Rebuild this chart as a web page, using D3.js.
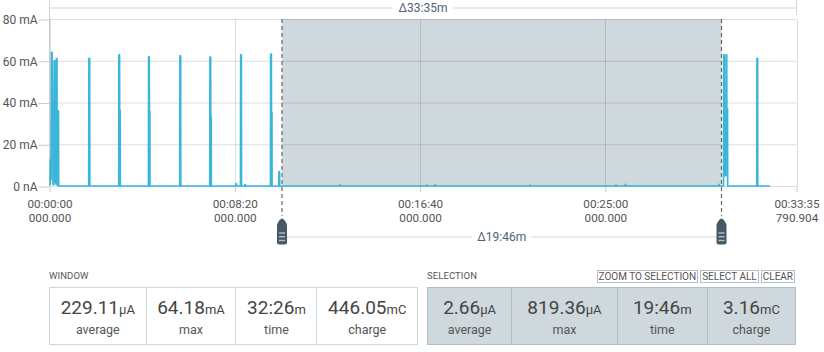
<!DOCTYPE html>
<html><head><meta charset="utf-8">
<script src="https://cdn.jsdelivr.net/npm/d3@7"></script>
<style>
body{margin:0;background:#fff;font-family:Roboto,sans-serif;}
#wrap{position:relative;width:824px;height:352px;overflow:hidden;}
svg{position:absolute;left:0;top:0;}
.title{position:absolute;top:270px;font-size:9.5px;color:#555;letter-spacing:0.1px;line-height:12px;}
.panel{position:absolute;top:287px;width:369px;height:58px;display:flex;box-sizing:border-box;border:1px solid #cfd8dc;}
.panel.sel{background:#cfd8dc;border-color:#b0bec5;}
.cell{flex:1 1 auto;text-align:center;box-sizing:border-box;border-left:1px solid #cfd8dc;padding:0 6px;}
.panel.sel .cell{border-left-color:#b0bec5;}
.cell:first-child{border-left:none;}
.val{margin-top:9px;font-size:19px;line-height:22px;color:#454545;white-space:nowrap;}
.unit{font-size:13px;}
.lab{margin-top:1px;font-size:12.5px;line-height:15px;color:#555;}
.btns{position:absolute;top:270px;right:29px;display:flex;gap:2px;}
.btn{font-size:10px;line-height:11px;color:#555;border:1px solid #b0bec5;padding:0 1px;background:#fff;white-space:nowrap;}
</style></head><body><div id="wrap"></div><script>
// ---- data ----
const timeSec = [0,2.0,2.3,4.0,4.3,5.5,7.0,7.4,9.0,9.4,10.6,11.2,12.6,13.8,14.2,15.0,16.4,16.8,18.6,20.2,20.6,21.6,24.2,24.8,
 105.8,106.4,108.2,108.8,
 186.8,187.3,189.0,189.3,190.6,191.0,
 267.0,267.5,269.2,269.5,270.8,271.2,
 351.5,352.0,353.8,354.3,
 432.5,433.0,434.8,435.1,436.4,436.8,
 502.8,503.3,504.5,505.0,
 515.4,515.9,517.7,518.2,
 527.2,527.6,528.8,529.2,
 596.3,596.8,598.6,598.9,600.2,600.6,
 618.7,619.2,620.8,621.2,
 783.5,784.0,784.8,
 1018.4,1018.8,1019.6,
 1040.0,1040.4,1041.2,
 1296.2,1296.6,1297.4,
 1528.4,1528.8,1529.6,
 1553.9,1554.3,1555.1,
 1806.2,1806.6,1807.4,
 1818.9,1819.3,1820.9,1821.3,1825.6,1826.0,1827.4,1827.8,1829.6,1830.0,
 1908.7,1909.2,1910.8,1911.2,
 1944.3];
const currentMA = [0.8,0.8,12.5,12.5,3,64,64,40,40,1,38,0.5,60,60,2,45,45,1,61,61,0.5,36,36,0.003,
 0.003,61.2,61.2,0.003,
 0.003,62.8,62.8,36.4,36.4,0.003,
 0.003,61.9,61.9,35.9,35.9,0.003,
 0.003,62.3,62.3,0.003,
 0.003,61.8,61.8,33,33,0.003,
 0.003,1.0,1.0,0.003,
 0.003,62.8,62.8,0.003,
 0.003,0.7,0.7,0.003,
 0.003,63.2,63.2,35.4,35.4,0.003,
 0.003,6.9,6.9,0.003,
 0.003,0.5,0.003,
 0.003,0.4,0.003,
 0.003,0.5,0.003,
 0.003,0.4,0.003,
 0.003,0.4,0.003,
 0.003,0.82,0.003,
 0.003,0.8,0.003,
 0.003,62.8,62.8,5,5,62.8,62.8,37.2,37.2,0.003,
 0.003,61.2,61.2,0.003,
 0.003];
const yTicks = [0,20,40,60,80];
const yTickLabels = ["0 nA","20 mA","40 mA","60 mA","80 mA"];
const xTicks = [0,500,1000,1500,2015.790904];
const xTickTime = ["00:00:00","00:08:20","00:16:40","00:25:00","00:33:35"];
const xTickFrac = ["000.000","000.000","000.000","000.000","790.904"];
const domainEnd = 2015.790904;
const selStart = 627.4, selEnd = 1813.4;
const windowDelta = "Δ33:35m", selectionDelta = "Δ19:46m";
const statLabels = ["average","max","time","charge"];
const windowValues = ["229.11","64.18","32:26","446.05"];
const windowUnits = ["µA","mA","m","mC"];
const selectionValues = ["2.66","819.36","19:46","3.16"];
const selectionUnits = ["µA","µA","m","mC"];
const buttons = ["ZOOM TO SELECTION","SELECT ALL","CLEAR"];

// ---- chart ----
const W=824,H=352, L=49.5, R=796.5, T=19, B=186;
const wrap=d3.select("#wrap");
const svg=wrap.append("svg").attr("width",W).attr("height",H)
  .style("font-family","Roboto, sans-serif");
const x=d3.scaleLinear().domain([0,domainEnd]).range([L,R]);
const y=d3.scaleLinear().domain([0,80]).range([B,T]);

// top delta bar
const topG=svg.append("g");
topG.append("line").attr("x1",L).attr("x2",R).attr("y1",8).attr("y2",8).attr("stroke","#cfd8dc");
topG.selectAll("line.end").data([L,R]).join("line").attr("class","end")
  .attr("x1",d=>d).attr("x2",d=>d).attr("y1",0).attr("y2",15).attr("stroke","#cfd8dc");
const topMid=(L+R)/2;
topG.append("rect").attr("x",topMid-30).attr("y",1).attr("width",60).attr("height",14).attr("fill","#fff");
topG.append("text").attr("x",topMid).attr("y",8).attr("dy","0.35em").attr("text-anchor","middle")
  .attr("font-size",12).attr("fill","#54626f").text(windowDelta);

// selection rect
svg.append("rect").attr("x",x(selStart)).attr("y",T).attr("width",x(selEnd)-x(selStart)).attr("height",B-T)
  .attr("fill","#cfd8dc");

// grid
svg.append("g").selectAll("line").data(yTicks).join("line")
  .attr("x1",L).attr("x2",R).attr("y1",d=>y(d)+0.5).attr("y2",d=>y(d)+0.5)
  .attr("stroke","#000").attr("stroke-opacity",0.13);
svg.append("g").selectAll("line").data(xTicks).join("line")
  .attr("x1",d=>Math.round(x(d))+0.5).attr("x2",d=>Math.round(x(d))+0.5).attr("y1",T).attr("y2",B)
  .attr("stroke","#000").attr("stroke-opacity",0.13);
// left axis line
svg.append("line").attr("x1",L).attr("x2",L).attr("y1",15).attr("y2",B).attr("stroke","#ccc");

// y axis
const yAxis=svg.append("g").attr("transform",`translate(${L},0.5)`)
  .call(d3.axisLeft(y).tickValues(yTicks).tickFormat((d,i)=>yTickLabels[i]).tickSize(11).tickPadding(1));
yAxis.select(".domain").remove();
yAxis.selectAll("line").attr("stroke","#ccc");
yAxis.selectAll("text").attr("font-size",12).attr("fill","#555").attr("font-family","Roboto, sans-serif");

// x axis
const xAxis=svg.append("g").attr("transform",`translate(0,${B})`)
  .call(d3.axisBottom(x).tickValues(xTicks).tickSize(6).tickFormat(""));
xAxis.select(".domain").remove();
xAxis.selectAll("line").attr("stroke","#ccc");
xAxis.selectAll(".tick").each(function(d,i){
  const t=d3.select(this).select("text").attr("font-size",11.7).attr("fill","#555")
    .attr("font-family","Roboto, sans-serif").attr("y",0).attr("dy",null);
  t.append("tspan").attr("x",0).attr("y",22.3).text(xTickTime[i]);
  t.append("tspan").attr("x",0).attr("y",35.7).text(xTickFrac[i]);
});

// data line
const pts=timeSec.map((t,i)=>[t,currentMA[i]]);
svg.append("path").datum(pts)
  .attr("d",d3.line().x(d=>x(d[0])).y(d=>y(d[1])))
  .attr("fill","none").attr("stroke","#1eacd5").attr("stroke-width",1.7).attr("stroke-opacity",0.88)
  .attr("stroke-linejoin","round");

// selection markers
const sx=[x(selStart),x(selEnd)];
svg.selectAll("line.dash").data(sx).join("line").attr("class","dash")
  .attr("x1",d=>d).attr("x2",d=>d).attr("y1",T).attr("y2",216)
  .attr("stroke","#666").attr("stroke-width",1.2).attr("stroke-dasharray","4,3");
const selMid=(sx[0]+sx[1])/2;
svg.append("line").attr("x1",sx[0]+5).attr("x2",sx[1]-5).attr("y1",237).attr("y2",237).attr("stroke","#cfd8dc");
svg.append("rect").attr("x",selMid-30).attr("y",230).attr("width",60).attr("height",14).attr("fill","#fff");
svg.append("text").attr("x",selMid).attr("y",237).attr("dy","0.35em").attr("text-anchor","middle")
  .attr("font-size",12).attr("fill","#54626f").text(selectionDelta);
const mk=svg.selectAll("g.mk").data(sx).join("g").attr("class","mk").attr("transform",d=>`translate(${d},218.5)`);
mk.append("path").attr("d","M0,0 C1.5,0 5,4.5 5,7 L5,24 Q5,26 3,26 L-3,26 Q-5,26 -5,24 L-5,7 C-5,4.5 -1.5,0 0,0 Z")
  .attr("fill","#455a64");
mk.selectAll("line").data([14.5,18.2,22]).join("line").attr("x1",-3).attr("x2",3)
  .attr("y1",d=>d).attr("y2",d=>d).attr("stroke","#b0bec5").attr("stroke-width",1.4);

// ---- stats panels ----
function panel(left,title,vals,units,cls){
  wrap.append("div").attr("class","title").style("left",left+"px").text(title);
  const p=wrap.append("div").attr("class","panel"+(cls?" "+cls:"")).style("left",left+"px");
  const c=p.selectAll("div.cell").data(vals).join("div").attr("class","cell");
  const v=c.append("div").attr("class","val");
  v.append("span").text(d=>d);
  v.append("span").attr("class","unit").text((d,i)=>units[i]);
  c.append("div").attr("class","lab").text((d,i)=>statLabels[i]);
}
panel(49,"WINDOW",windowValues,windowUnits,"");
panel(427,"SELECTION",selectionValues,selectionUnits,"sel");
wrap.append("div").attr("class","btns").selectAll("div").data(buttons).join("div").attr("class","btn").text(d=>d);
</script></body></html>
